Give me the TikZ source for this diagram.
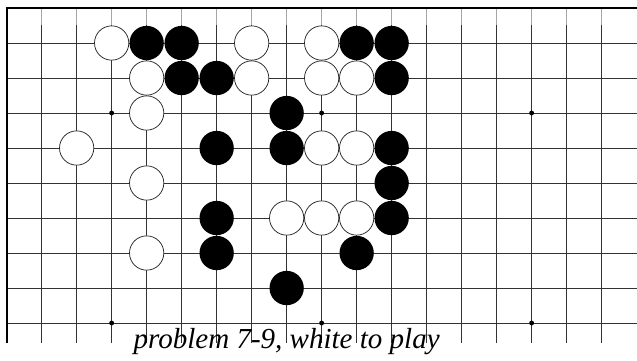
\documentclass[tikz,border=0pt]{standalone}
\usepackage{fontspec}
\setmainfont{Liberation Serif}
\begin{document}
\begin{tikzpicture}[x=1cm, y=-1cm,
    gridline/.style={draw=black!80, line width=0.8pt},
    edgeline/.style={draw=black, line width=1.6pt},
    stub/.style={draw=black!35, line width=0.8pt},
    hoshi/.style={fill=black},
    whitestone/.style={fill=white, draw=black!85, line width=0.6pt},
    blackstone/.style={fill=black},
    caption/.style={font=\fontsize{23.6}{28}\selectfont\itshape, anchor=base}
]
\def\W{18.01}
\def\B{9.56}
\def\R{0.49}
\useasboundingbox (-0.19,-0.229) rectangle (18.01,10.057);

% Board lines, top-left corner of the board at (0,0).
\foreach \r in {1,...,9}
    \draw[gridline] (0,\r) -- (\W,\r);
\foreach \c in {1,...,17} {
    \draw[stub] (\c,0) -- (\c,0.49);
    \draw[gridline] (\c,0.49) -- (\c,\B);
}
\draw[edgeline] (0,\B) -- (0,0) -- (\W,0);

% Star points.
\foreach \c in {3,9,15}
    \foreach \r in {3,9}
        \fill[hoshi] (\c,\r) circle (0.07);

% White stones.
\foreach \c/\r in {3/1,7/1,9/1,4/2,7/2,9/2,10/2,4/3,2/4,9/4,10/4,4/5,8/6,9/6,10/6,4/7}
    \draw[whitestone] (\c,\r) circle (\R);

% Black stones.
\foreach \c/\r in {4/1,5/1,10/1,11/1,5/2,6/2,11/2,8/3,6/4,8/4,11/4,11/5,6/6,11/6,6/7,10/7,8/8}
    \fill[blackstone] (\c,\r) circle (\R);

\node[caption] (caption) at (8,9.74) {problem 7-9, white to play};
\end{tikzpicture}
\end{document}
